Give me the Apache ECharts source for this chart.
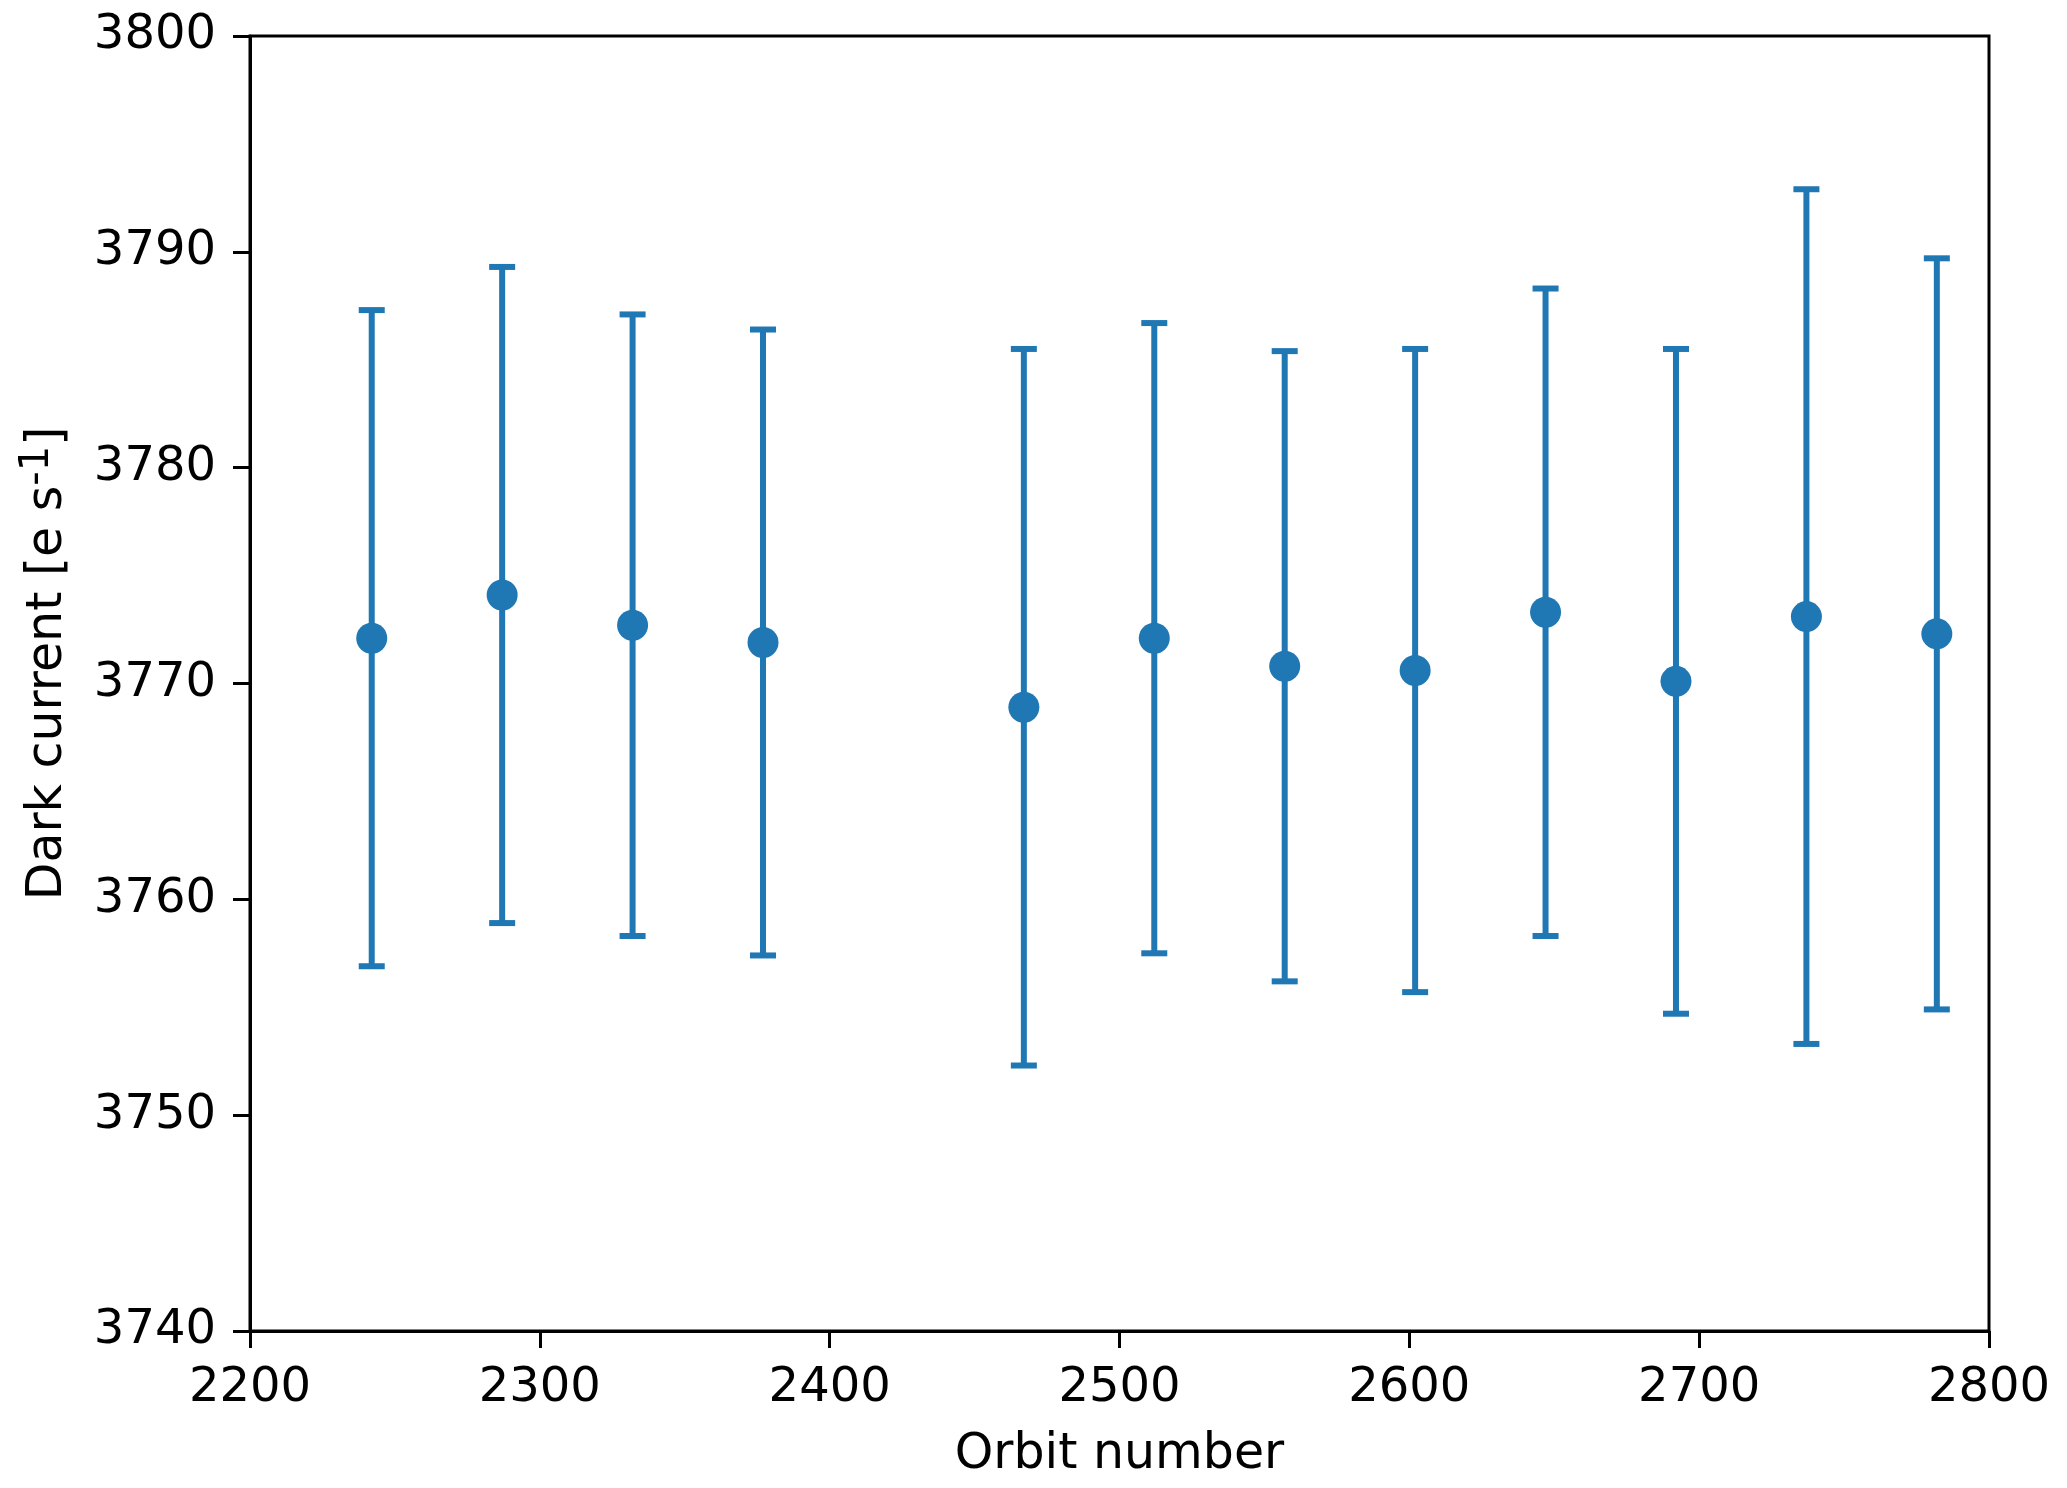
<!DOCTYPE html>
<html>
<head>
<meta charset="utf-8">
<script src="https://cdn.jsdelivr.net/npm/echarts@6/dist/echarts.min.js"></script>
<style>
  html, body { margin: 0; padding: 0; background: #fff; }
  #chart { width: 2067px; height: 1488px; }
</style>
</head>
<body>
<div id="chart"></div>
<script>
// orbit numbers, dark current and 1-sigma error
const orbits = [2242, 2287, 2332, 2377, 2467, 2512, 2557, 2602, 2647, 2692, 2737, 2782];
const darkCurrent = [3772.1, 3774.1, 3772.7, 3771.9, 3768.9, 3772.1, 3770.8, 3770.6, 3773.3, 3770.1, 3773.1, 3772.3];
const errors = [15.2, 15.2, 14.4, 14.5, 16.6, 14.6, 14.6, 14.9, 15.0, 15.4, 19.8, 17.4];
const xTicks = [2200, 2300, 2400, 2500, 2600, 2700, 2800];
const yTicks = [3740, 3750, 3760, 3770, 3780, 3790, 3800];

const blue = '#1f77b4';
const font = 'DejaVu Sans';

const chart = echarts.init(document.getElementById('chart'));

const points = orbits.map((o, i) => [o, darkCurrent[i]]);
const bars = orbits.map((o, i) => [o, darkCurrent[i] - errors[i], darkCurrent[i] + errors[i]]);

function renderErrorBar(params, api) {
  const x = api.value(0);
  const lo = api.coord([x, api.value(1)]);
  const hi = api.coord([x, api.value(2)]);
  const half = 13;
  const style = { stroke: blue, lineWidth: 6 };
  return {
    type: 'group',
    children: [
      { type: 'line', shape: { x1: hi[0], y1: hi[1], x2: lo[0], y2: lo[1] }, style: style },
      { type: 'line', shape: { x1: hi[0] - half, y1: hi[1], x2: hi[0] + half, y2: hi[1] }, style: style },
      { type: 'line', shape: { x1: lo[0] - half, y1: lo[1], x2: lo[0] + half, y2: lo[1] }, style: style }
    ]
  };
}

const axisCommon = {
  type: 'value',
  axisLine: { show: true, lineStyle: { color: '#000', width: 3 } },
  axisTick: { show: true, length: 17, lineStyle: { color: '#000', width: 3 } },
  splitLine: { show: false },
  axisLabel: { color: '#000', fontSize: 48, fontFamily: font, margin: 34, formatter: v => String(v) },
  nameTextStyle: { color: '#000', fontSize: 49, fontFamily: font }
};

chart.setOption({
  animation: false,
  backgroundColor: '#fff',
  grid: {
    left: 250, right: 78, top: 36, bottom: 157,
    show: true, borderColor: '#000', borderWidth: 3
  },
  xAxis: Object.assign({}, axisCommon, {
    min: xTicks[0], max: xTicks[xTicks.length - 1], interval: 100,
    name: 'Orbit number', nameLocation: 'middle', nameGap: 100
  }),
  yAxis: Object.assign({}, axisCommon, {
    min: yTicks[0], max: yTicks[yTicks.length - 1], interval: 10,
    name: 'Dark current [e s{sup|-1}]', nameLocation: 'middle', nameGap: 172,
    nameTextStyle: {
      color: '#000', fontSize: 49, fontFamily: font,
      padding: [0, 0, 0, 40],
      rich: { sup: { fontSize: 40, fontFamily: font, color: '#000', verticalAlign: 'top', padding: [0, 0, 20, 0] } }
    }
  }),
  series: [
    {
      type: 'custom',
      renderItem: renderErrorBar,
      data: bars,
      encode: { x: 0, y: [1, 2] },
      z: 2
    },
    {
      type: 'scatter',
      data: points,
      symbol: 'circle',
      symbolSize: 31,
      itemStyle: { color: blue, opacity: 1 },
      z: 3
    }
  ]
});
</script>
</body>
</html>
